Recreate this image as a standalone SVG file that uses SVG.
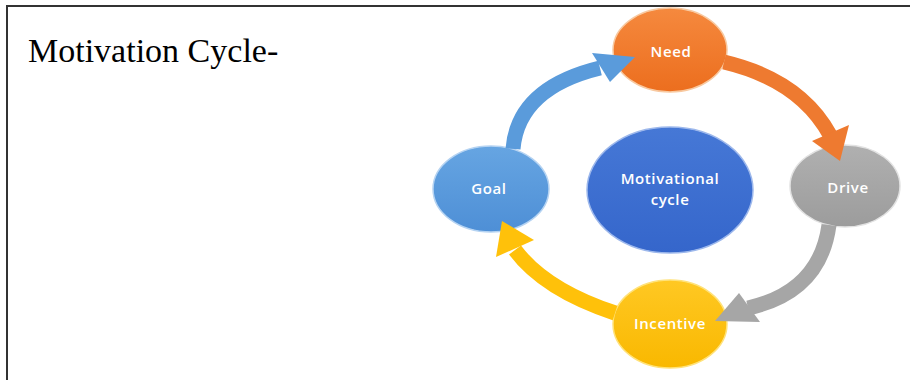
<svg xmlns="http://www.w3.org/2000/svg" width="910" height="380" viewBox="0 0 910 380">
  <defs>
    <linearGradient id="gNeed" x1="0" y1="0" x2="0" y2="1">
      <stop offset="0" stop-color="#F5893E"/>
      <stop offset="1" stop-color="#EC6E1E"/>
    </linearGradient>
    <linearGradient id="gDrive" x1="0" y1="0" x2="0" y2="1">
      <stop offset="0" stop-color="#B0B0B0"/>
      <stop offset="1" stop-color="#9C9C9C"/>
    </linearGradient>
    <linearGradient id="gInc" x1="0" y1="0" x2="0" y2="1">
      <stop offset="0" stop-color="#FFC823"/>
      <stop offset="1" stop-color="#F9B800"/>
    </linearGradient>
    <linearGradient id="gGoal" x1="0" y1="0" x2="0" y2="1">
      <stop offset="0" stop-color="#66A5E2"/>
      <stop offset="1" stop-color="#4E8FD6"/>
    </linearGradient>
    <linearGradient id="gCenter" x1="0" y1="0" x2="0" y2="1">
      <stop offset="0" stop-color="#4678D6"/>
      <stop offset="1" stop-color="#3566CB"/>
    </linearGradient>
  </defs>
  <style>
    .frame { stroke: #333333; stroke-width: 2; fill: none; }
    .title { font-family: "Liberation Serif", "Times New Roman", serif; font-size: 34px; fill: #000000; }
    .lbl { font-family: "Open Sans", "Liberation Sans", sans-serif; font-size: 15px; font-weight: 600; fill: #FFFFFF; text-anchor: middle; letter-spacing: 0.6px; }
    .rim { stroke-width: 1.5; }
    .shaft { fill: none; stroke-width: 15; stroke-linecap: butt; }
  </style>

  <rect width="910" height="380" fill="#FFFFFF"/>
  <g id="frame">
    <line class="frame" x1="6" y1="6" x2="910" y2="6"/>
    <line class="frame" x1="7" y1="5" x2="7" y2="380"/>
  </g>

  <text id="title" class="title" x="28" y="62">Motivation Cycle-</text>

  <g id="node-center">
    <ellipse cx="670" cy="190" rx="83" ry="63" fill="url(#gCenter)" class="rim" stroke="#9DB8EC"/>
    <text class="lbl" x="670" y="184">Motivational</text>
    <text class="lbl" x="670" y="205">cycle</text>
  </g>
  <g id="node-need">
    <ellipse cx="670" cy="50" rx="57" ry="42" fill="url(#gNeed)" class="rim" stroke="#F8C9A0"/>
    <text class="lbl" x="671" y="57">Need</text>
  </g>
  <g id="node-drive">
    <ellipse cx="845" cy="186" rx="55" ry="41" fill="url(#gDrive)" class="rim" stroke="#E2E2E2"/>
    <text class="lbl" x="848" y="193">Drive</text>
  </g>
  <g id="node-incentive">
    <ellipse cx="670" cy="324" rx="57" ry="44" fill="url(#gInc)" class="rim" stroke="#FFE27A"/>
    <text class="lbl" x="670" y="329">Incentive</text>
  </g>
  <g id="node-goal">
    <ellipse cx="491" cy="189" rx="58" ry="43" fill="url(#gGoal)" class="rim" stroke="#B5D3F2"/>
    <text class="lbl" x="489" y="194">Goal</text>
  </g>

  <g id="connectors">
    <g id="goal-need">
      <path class="shaft" stroke="#5A9BDB" d="M513,149 Q518,88 600,68"/>
      <polygon fill="#5A9BDB" points="592,53 610,82 635,57"/>
    </g>
    <g id="need-drive">
      <path class="shaft" stroke="#EE7A30" d="M724,62 Q800,80 830,135"/>
      <polygon fill="#EE7A30" points="812,141 849,125 840,161"/>
    </g>
    <g id="drive-incentive">
      <path class="shaft" stroke="#A6A6A6" d="M829,225 Q820,292 748,308"/>
      <polygon fill="#A6A6A6" points="739,293 760,322 715,321"/>
    </g>
    <g id="incentive-goal">
      <path class="shaft" stroke="#FFC10A" d="M615,313 Q545,290 515,250"/>
      <polygon fill="#FFC10A" points="496,257 534,240 502,221"/>
    </g>
  </g>
</svg>
